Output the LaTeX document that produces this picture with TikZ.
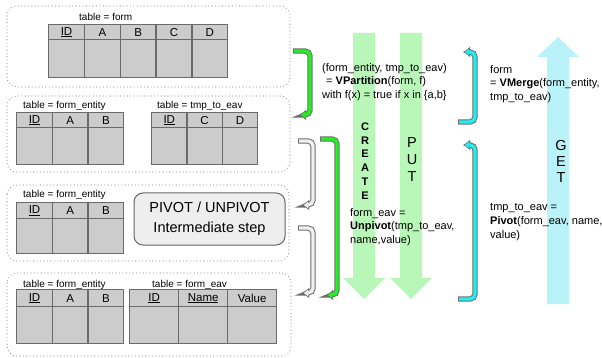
\documentclass[tikz,border=0pt]{standalone}
\usepackage{fontspec}
\setmainfont{Liberation Sans}
\usetikzlibrary{arrows.meta}
\definecolor{cellfill}{HTML}{CCCCCC}
\definecolor{celldraw}{HTML}{6B6B6B}
\definecolor{dotc}{HTML}{8A8A8A}
\definecolor{brout}{HTML}{6E6E6E}
\definecolor{brgreen}{HTML}{22F022}
\definecolor{brcyan}{HTML}{22EEF2}
\definecolor{brgray}{HTML}{F0F0F0}
\definecolor{bandgreen}{HTML}{B8F7B8}
\definecolor{bandcyan}{HTML}{B9F3F9}
\definecolor{pivfill}{HTML}{EEEEEE}
\definecolor{pivdraw}{HTML}{666666}
\newcommand\mktable[7]{%
  \foreach \h [count=\i] in {#7} {
    \node[hcell, minimum width=#4pt, minimum height=#5pt, anchor=north west] (#1h\i) at ({#2+(\i-1)*#4}, #3) {\h};
    \node[bcell, minimum width=#4pt, minimum height=#6pt, anchor=north west] (#1b\i) at ({#2+(\i-1)*#4}, #3+#5) {};
  }}
\newcommand\brkarrow[2]{%
  \draw[line width=5.4pt, draw=brout, rounded corners=5pt, -{Latex[length=7pt,width=11pt]}] #2;
  \draw[line width=3.4pt, draw=#1, rounded corners=5pt, shorten >=1.6pt, shorten <=1pt, -{Latex[length=4.6pt,width=7.6pt]}] #2;}
\begin{document}
\begin{tikzpicture}[x=1pt,y=-1pt,
  hcell/.style={draw=celldraw, fill=cellfill, line width=1.3pt, inner sep=0pt, font=\fontsize{11.5}{12}\selectfont},
  bcell/.style={draw=celldraw, fill=cellfill, line width=1.3pt, inner sep=0pt},
  tlabel/.style={font=\fontsize{10}{12}\selectfont, inner sep=0pt, anchor=west},
  dotbox/.style={draw=dotc, line width=1.1pt, dash pattern=on 0pt off 3.4pt, line cap=round, rounded corners=10pt},
  ftext/.style={font=\fontsize{11}{13.8}\selectfont, align=left, inner sep=0pt, anchor=west},
  vword/.style={align=center, inner sep=0pt}]
\useasboundingbox (0,0) rectangle (602,358);
\fill[white] (0,0) rectangle (602,358);

% dotted group boxes
\draw[dotbox] (7,6) rectangle (290,87);
\draw[dotbox] (7,96) rectangle (290,172);
\draw[dotbox] (7,185) rectangle (289,261);
\draw[dotbox] (7,273) rectangle (291,356);

% tables
\node[tlabel] (l1) at (79,17) {table = form};
\mktable{ta}{48}{24}{35.8}{15}{38}{{\underline{ID}},A,B,C,D}
\node[tlabel] (l2a) at (23,106) {table = form\_entity};
\mktable{tb}{16}{112}{35.7}{15}{37}{{\underline{ID}},A,B}
\node[tlabel] (l2b) at (157,106) {table = tmp\_to\_eav};
\mktable{tc}{151}{112}{35.3}{15}{37}{{\underline{ID}},C,D}
\node[tlabel] (l3) at (23,195) {table = form\_entity};
\mktable{td}{16}{202}{35.7}{16}{35}{{\underline{ID}},A,B}
\node[tlabel] (l4a) at (23,285) {table = form\_entity};
\mktable{te}{16}{289}{35.7}{17}{37}{{\underline{ID}},A,B}
\node[tlabel] (l4b) at (152,285) {table = form\_eav};
\mktable{tf}{129}{289}{49}{17}{37}{{\underline{ID}},{\underline{Name}},Value}

% pivot box
\node[draw=pivdraw, fill=pivfill, line width=1pt, rounded corners=9pt, minimum width=151pt, minimum height=52pt, align=center, font=\fontsize{14.5}{20}\selectfont] (piv) at (209.5,219) {PIVOT / UNPIVOT\\Intermediate step};

% big arrows
\fill[bandgreen] (353,33) -- (375,33) -- (375,278) -- (385,278) -- (364,299) -- (343,278) -- (353,278) -- cycle;
\fill[bandgreen] (400,33) -- (422,33) -- (422,278) -- (432,278) -- (411,299) -- (390,278) -- (400,278) -- cycle;
\fill[bandcyan] (547,304) -- (569,304) -- (569,57) -- (579,57) -- (558,37) -- (537,57) -- (547,57) -- cycle;

% words on the big arrows
\node[vword, font=\fontsize{11}{13.8}\selectfont\bfseries] (create) at (365,161) {C\\R\\E\\A\\T\\E};
\node[vword, font=\fontsize{14.5}{17}\selectfont] (put) at (412,160) {P\\U\\T};
\node[vword, font=\fontsize{14.5}{16}\selectfont] (get) at (561,161) {G\\E\\T};

% formulas
\node[ftext] (vpart) at (322,82) {(form\_entity, tmp\_to\_eav)\\\hspace*{4pt}= \textbf{VPartition}(form, f)\\with f(x) = true if x in \{a,b\}};
\node[ftext] (unpiv) at (350,227) {form\_eav =\\\textbf{Unpivot}(tmp\_to\_eav,\\name,value)};
\node[ftext] (vmerge) at (490,84) {form\\= \textbf{VMerge}(form\_entity,\\tmp\_to\_eav)};
\node[ftext] (pivot) at (490,222) {tmp\_to\_eav =\\\textbf{Pivot}(form\_eav, name,\\value)};

% bracket arrows
\coordinate (g1s) at (293,51); \coordinate (g1e) at (299,115);
\brkarrow{brgreen}{(g1s) -- (310,51) -- (310,115) -- (g1e)}
\coordinate (g2s) at (320,139); \coordinate (g2e) at (326,295);
\brkarrow{brgreen}{(g2s) -- (337,139) -- (337,295) -- (g2e)}
\coordinate (w1s) at (298,141); \coordinate (w1e) at (302,205);
\brkarrow{brgray}{(w1s) -- (313,141) -- (313,205) -- (w1e)}
\coordinate (w2s) at (298,228); \coordinate (w2e) at (302,293);
\brkarrow{brgray}{(w2s) -- (313,228) -- (313,293) -- (w2e)}
\coordinate (c1s) at (458,122); \coordinate (c1e) at (463,52);
\brkarrow{brcyan}{(c1s) -- (475,122) -- (475,52) -- (c1e)}
\coordinate (c2s) at (458,299); \coordinate (c2e) at (463,145);
\brkarrow{brcyan}{(c2s) -- (475,299) -- (475,145) -- (c2e)}
\end{tikzpicture}
\end{document}
